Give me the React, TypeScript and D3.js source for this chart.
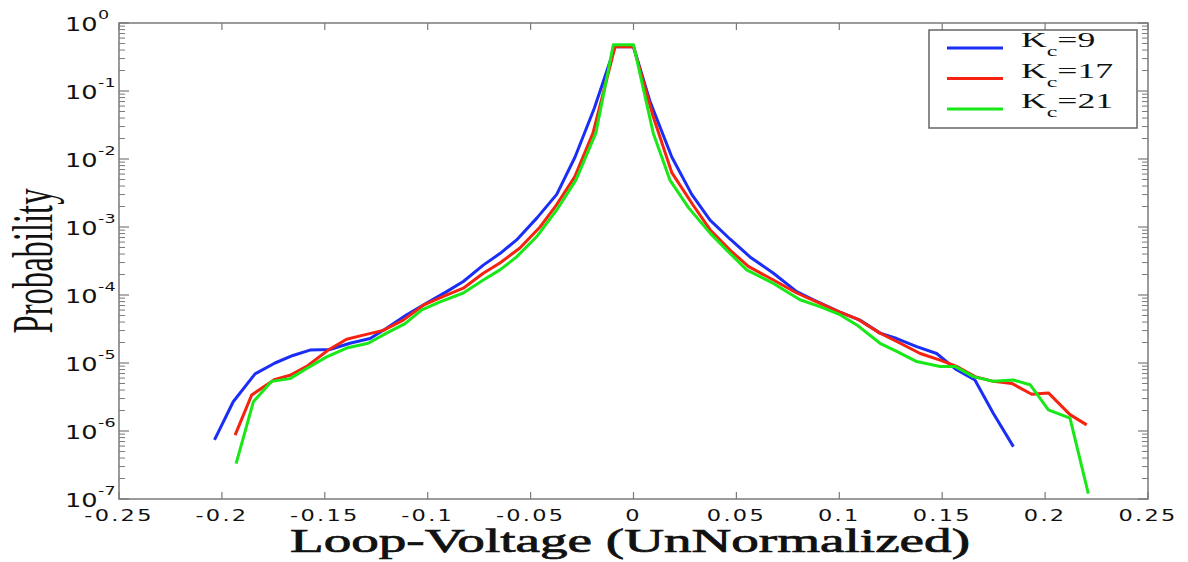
import React from "react";
import * as d3 from "d3";

// ---- data ----
const k9X = [-0.2036, -0.1945, -0.1839, -0.1742, -0.1655, -0.1572, -0.1475, -0.1378, -0.128, -0.12, -0.1102, -0.1005, -0.0908, -0.0827, -0.073, -0.0649, -0.0568, -0.047, -0.0373, -0.0284, -0.019, -0.009, 0, 0.008, 0.0186, 0.0283, 0.0372, 0.047, 0.0566, 0.068, 0.0793, 0.0874, 0.1003, 0.11, 0.1198, 0.1279, 0.1376, 0.1473, 0.157, 0.1659, 0.1748, 0.1846];
const k9Y = [7.41e-7, 2.69e-6, 6.92e-6, 1.0e-5, 1.29e-5, 1.55e-5, 1.58e-5, 1.95e-5, 2.29e-5, 3.24e-5, 5.13e-5, 7.59e-5, 1.12e-4, 1.58e-4, 2.75e-4, 4.07e-4, 6.46e-4, 1.35e-3, 3.02e-3, 1.07e-2, 5.62e-2, 0.447, 0.447, 7.08e-2, 1.07e-2, 3.02e-3, 1.26e-3, 6.61e-4, 3.63e-4, 2.09e-4, 1.12e-4, 8.51e-5, 5.62e-5, 4.27e-5, 2.75e-5, 2.29e-5, 1.74e-5, 1.38e-5, 7.94e-6, 5.62e-6, 1.82e-6, 5.89e-7];

const k17X = [-0.1936, -0.1855, -0.1742, -0.1669, -0.1588, -0.1483, -0.1394, -0.1313, -0.1216, -0.1119, -0.1021, -0.0924, -0.0827, -0.073, -0.0649, -0.0552, -0.0454, -0.0373, -0.0285, -0.0197, -0.009, 0, 0.0096, 0.0186, 0.029, 0.0372, 0.0469, 0.0558, 0.068, 0.0793, 0.089, 0.1003, 0.1092, 0.1198, 0.1296, 0.1393, 0.149, 0.157, 0.1659, 0.1748, 0.1838, 0.1935, 0.2016, 0.2121, 0.2202];
const k17Y = [8.71e-7, 3.39e-6, 5.75e-6, 6.61e-6, 8.91e-6, 1.55e-5, 2.24e-5, 2.57e-5, 3.02e-5, 4.27e-5, 7.08e-5, 9.55e-5, 1.26e-4, 2.09e-4, 2.95e-4, 4.9e-4, 1.0e-3, 2.14e-3, 5.5e-3, 2.4e-2, 0.447, 0.447, 4.17e-2, 6.31e-3, 2.09e-3, 9.12e-4, 4.57e-4, 2.63e-4, 1.66e-4, 1.07e-4, 7.94e-5, 5.62e-5, 4.37e-5, 2.75e-5, 1.95e-5, 1.38e-5, 1.1e-5, 8.91e-6, 6.31e-6, 5.37e-6, 5.01e-6, 3.47e-6, 3.63e-6, 1.74e-6, 1.23e-6];

const k21X = [-0.1931, -0.1847, -0.1758, -0.1669, -0.1588, -0.1491, -0.1394, -0.1289, -0.12, -0.111, -0.1029, -0.094, -0.0827, -0.073, -0.0649, -0.0568, -0.047, -0.0373, -0.028, -0.0183, -0.0098, 0, 0.0096, 0.0177, 0.0268, 0.0372, 0.0453, 0.055, 0.068, 0.0809, 0.0906, 0.1003, 0.1085, 0.1198, 0.1279, 0.1376, 0.149, 0.1562, 0.1651, 0.1748, 0.1846, 0.1927, 0.2016, 0.2121, 0.221];
const k21Y = [3.31e-7, 2.69e-6, 5.37e-6, 5.89e-6, 8.32e-6, 1.23e-5, 1.66e-5, 1.95e-5, 2.75e-5, 3.8e-5, 6.03e-5, 7.94e-5, 1.07e-4, 1.66e-4, 2.34e-4, 3.63e-4, 7.24e-4, 1.78e-3, 4.9e-3, 2.4e-2, 0.479, 0.479, 2.4e-2, 4.9e-3, 1.91e-3, 8.13e-4, 4.57e-4, 2.34e-4, 1.48e-4, 8.51e-5, 6.76e-5, 5.13e-5, 3.63e-5, 1.95e-5, 1.48e-5, 1.05e-5, 8.91e-6, 8.91e-6, 6.31e-6, 5.37e-6, 5.62e-6, 4.79e-6, 2.04e-6, 1.55e-6, 1.2e-7];

const seriesNames = ["9", "17", "21"];
const seriesColors = ["#1a2ef5", "#f5230f", "#18e818"];
const xTickValues = [-0.25, -0.2, -0.15, -0.1, -0.05, 0, 0.05, 0.1, 0.15, 0.2, 0.25];
const xTickLabels = ["-0.25", "-0.2", "-0.15", "-0.1", "-0.05", "0", "0.05", "0.1", "0.15", "0.2", "0.25"];
const yTickExponents = [0, -1, -2, -3, -4, -5, -6, -7];

const W = 1188;
const H = 562;
const L = 119, R = 1148, T = 23, B = 499;
const AXIS = "#7a7a7a";

export default function App() {
  const x = d3.scaleLinear().domain([-0.25, 0.25]).range([L, R]);
  const y = d3.scaleLog().domain([1e-7, 1]).range([B, T]);
  const line = d3.line<[number, number]>().x((d) => x(d[0])).y((d) => y(d[1]));

  const series = [
    k9X.map((v, i) => [v, k9Y[i]] as [number, number]),
    k17X.map((v, i) => [v, k17Y[i]] as [number, number]),
    k21X.map((v, i) => [v, k21Y[i]] as [number, number]),
  ];

  const minorTicks = y.ticks().filter((t) => {
    const e = Math.log10(t);
    return Math.abs(e - Math.round(e)) > 1e-6;
  });

  return (
    <svg width={W} height={H} style={{ position: "absolute", left: 0, top: 0, background: "#fff" }}>
      <rect x={0} y={0} width={W} height={H} fill="#fff" />
      <defs>
        <clipPath id="clip">
          <rect x={L} y={T} width={R - L} height={B - T} />
        </clipPath>
      </defs>
      {/* curves */}
      <g clipPath="url(#clip)">
        {series.map((s, i) => (
          <path key={i} d={line(s) || ""} fill="none" stroke={seriesColors[i]} strokeWidth={3} strokeLinejoin="round" strokeLinecap="butt" />
        ))}
      </g>
      {/* axes box */}
      <rect x={L} y={T} width={R - L} height={B - T} fill="none" stroke={AXIS} strokeWidth={1.5} />
      {/* x ticks */}
      {xTickValues.map((v, i) => (
        <g key={"xt" + i}>
          <line x1={x(v)} x2={x(v)} y1={B} y2={B - 7} stroke={AXIS} strokeWidth={1.2} />
          <line x1={x(v)} x2={x(v)} y1={T} y2={T + 7} stroke={AXIS} strokeWidth={1.2} />
          <text transform={`translate(${x(v)},521) scale(1.5,1)`} textAnchor="middle" fontFamily="DejaVu Sans" fontSize={15} letterSpacing={1.5} fill="#111">
            {xTickLabels[i]}
          </text>
        </g>
      ))}
      {/* y major ticks */}
      {yTickExponents.map((e) => {
        const yy = y(Math.pow(10, e));
        return (
          <g key={"yt" + e}>
            <line x1={L} x2={L + 10} y1={yy} y2={yy} stroke={AXIS} strokeWidth={1.2} />
            <line x1={R} x2={R - 10} y1={yy} y2={yy} stroke={AXIS} strokeWidth={1.2} />
            <g transform={`translate(65,${yy + 8}) scale(1.35,1)`}>
              <text x={0} y={0} fontFamily="DejaVu Sans" fontSize={19} fill="#111">10</text>
              <text x={24.5} y={-12} fontFamily="DejaVu Sans" fontSize={13} fill="#111">{String(e)}</text>
            </g>
          </g>
        );
      })}
      {/* y minor ticks */}
      {minorTicks.map((t, i) => (
        <g key={"ym" + i}>
          <line x1={L} x2={L + 6} y1={y(t)} y2={y(t)} stroke={AXIS} strokeWidth={1} />
          <line x1={R} x2={R - 6} y1={y(t)} y2={y(t)} stroke={AXIS} strokeWidth={1} />
        </g>
      ))}
      {/* legend */}
      <rect x={929} y={30} width={208} height={98} fill="#fff" stroke="#666" strokeWidth={1.5} />
      {seriesNames.map((n, i) => {
        const ly = 48 + i * 30.5;
        return (
          <g key={"lg" + i}>
            <line x1={947} x2={1003} y1={ly} y2={ly} stroke={seriesColors[i]} strokeWidth={3} />
            <g transform={`translate(1021,${ly - 1}) scale(1.7,1)`}>
              <text fontFamily="Liberation Serif" fontSize={21} fill="#111">
                K<tspan fontSize={14} dy={9}>c</tspan><tspan dy={-9}>={n}</tspan>
              </text>
            </g>
          </g>
        );
      })}
      {/* axis titles */}
      <text x={630} y={552} textAnchor="middle" fontFamily="Liberation Serif" fontSize={33} textLength={680} lengthAdjust="spacingAndGlyphs" fill="#111" stroke="#111" strokeWidth={0.7}>
        Loop-Voltage (UnNormalized)
      </text>
      <text transform="translate(52,261) scale(1.7,1) rotate(-90)" textAnchor="middle" fontFamily="Liberation Serif" fontSize={33} textLength={145} lengthAdjust="spacingAndGlyphs" fill="#111">
        Probability
      </text>
    </svg>
  );
}
